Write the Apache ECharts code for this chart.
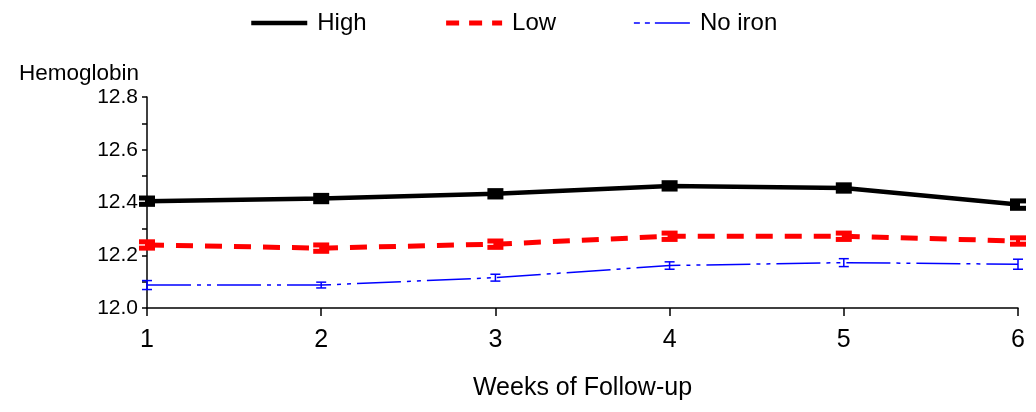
<!DOCTYPE html>
<html><head><meta charset="utf-8">
<script src="https://cdn.jsdelivr.net/npm/echarts@6/dist/echarts.min.js"></script>
<style>html,body{margin:0;padding:0;background:#fff}#c{width:1036px;height:412px}</style>
</head><body><div id="c"></div>
<script>
const weeks = [1, 2, 3, 4, 5, 6];
const seriesNames = ['High', 'Low', 'No iron'];
const highVals = [12.405, 12.415, 12.433, 12.463, 12.455, 12.392];
const lowVals = [12.239, 12.227, 12.242, 12.272, 12.272, 12.254];
const noIronVals = [12.087, 12.087, 12.115, 12.161, 12.172, 12.166];
const highErr = [0.012, 0.012, 0.012, 0.012, 0.012, 0.014];
const lowErr = [0.012, 0.012, 0.012, 0.012, 0.012, 0.012];
const noIronErr = [0.017, 0.011, 0.013, 0.014, 0.015, 0.019];
const yTicks = ['12.0', '12.2', '12.4', '12.6', '12.8'];

const FONT = '"Liberation Sans", Arial, sans-serif';
const styles = [
  {color: '#000000', width: 4.5, type: 'solid', capW: 8, capLW: 5, barLW: 4},
  {color: '#ff0000', width: 5, type: [17, 12], capW: 8, capLW: 5, barLW: 4},
  {color: '#0000ff', width: 1.5, type: [44, 6, 4, 6, 4, 6], capW: 5, capLW: 1.5, barLW: 1.5}
];
const vals = [highVals, lowVals, noIronVals];
const errs = [highErr, lowErr, noIronErr];

const series = [];
vals.forEach((v, i) => {
  const st = styles[i];
  series.push({
    name: seriesNames[i], type: 'line', symbol: 'none',
    data: weeks.map((w, k) => [w, v[k]]),
    lineStyle: {color: st.color, width: st.width, type: st.type},
    itemStyle: {color: st.color}, z: 3
  });
  series.push({
    name: seriesNames[i] + ' err', type: 'custom', clip: false, z: 4,
    data: weeks.map((w, k) => [w, v[k] - errs[i][k], v[k] + errs[i][k]]),
    renderItem: function (params, api) {
      const x = api.value(0);
      const lo = api.coord([x, api.value(1)]);
      const hi = api.coord([x, api.value(2)]);
      const s = {stroke: st.color, lineWidth: st.barLW};
      const c = {stroke: st.color, lineWidth: st.capLW};
      return {type: 'group', children: [
        {type: 'line', shape: {x1: lo[0], y1: lo[1], x2: hi[0], y2: hi[1]}, style: s},
        {type: 'line', shape: {x1: lo[0] - st.capW, y1: lo[1], x2: lo[0] + st.capW, y2: lo[1]}, style: c},
        {type: 'line', shape: {x1: hi[0] - st.capW, y1: hi[1], x2: hi[0] + st.capW, y2: hi[1]}, style: c}
      ]};
    }
  });
});

const chart = echarts.init(document.getElementById('c'), null, {renderer: 'canvas'});
chart.setOption({
  animation: false,
  backgroundColor: '#fff',
  title: {text: 'Hemoglobin', left: 14, top: 57,
    textStyle: {fontFamily: FONT, fontSize: 22.5, fontWeight: 'normal', color: '#000'}},
  legend: {
    data: [
      {name: 'High'},
      {name: 'Low', lineStyle: {type: [13, 10]}},
      {name: 'No iron', lineStyle: {type: [6, 5, 5, 5, 40, 0]}}
    ],
    left: 244, top: 6, itemWidth: 56, itemHeight: 14, itemGap: 77,
    itemStyle: {opacity: 0},
    lineStyle: {width: 'inherit'},
    textStyle: {fontFamily: FONT, fontSize: 24, color: '#000', padding: [0, 0, 0, 5]}
  },
  grid: {left: 147, right: 18, top: 97, bottom: 104},
  xAxis: {
    type: 'value', min: 1, max: 6, interval: 1,
    name: 'Weeks of Follow-up', nameLocation: 'middle', nameGap: 68,
    nameTextStyle: {fontFamily: FONT, fontSize: 25, color: '#000'},
    axisLine: {lineStyle: {color: '#000', width: 1.5}},
    axisTick: {show: true, length: 8, lineStyle: {color: '#000', width: 1.5}},
    axisLabel: {fontFamily: FONT, fontSize: 25, color: '#000', margin: 20},
    splitLine: {show: false}
  },
  yAxis: {
    type: 'value', min: 12.0, max: 12.8, interval: 0.2,
    axisLine: {show: true, lineStyle: {color: '#000', width: 1.5}},
    axisTick: {show: true, length: 5, lineStyle: {color: '#000', width: 1.5}},
    minorTick: {show: true, splitNumber: 2, length: 5, lineStyle: {color: '#000', width: 1.5}},
    axisLabel: {fontFamily: FONT, fontSize: 21, color: '#000', margin: 9,
      formatter: function (v) { const s = v.toFixed(1); return yTicks.indexOf(s) >= 0 ? s : ''; }},
    splitLine: {show: false}
  },
  series: series
});
</script></body></html>
